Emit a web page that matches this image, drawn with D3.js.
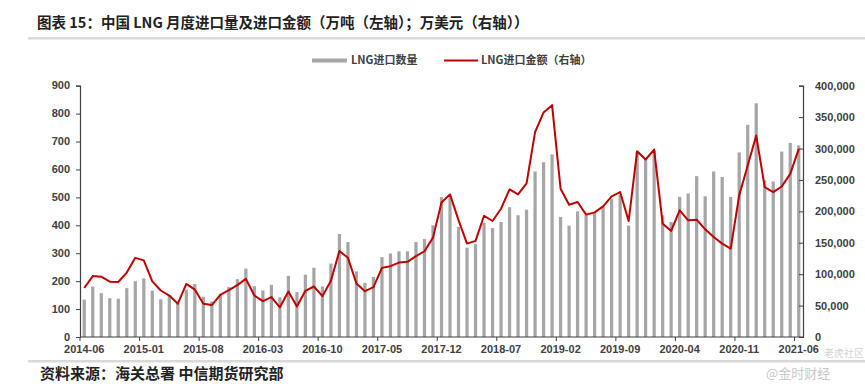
<!DOCTYPE html>
<html><head><meta charset="utf-8">
<script src="https://cdn.jsdelivr.net/npm/d3@7"></script>
<style>
body{margin:0;background:#fff;}
svg text{font-family:"Liberation Sans",Arial,"Noto Sans CJK SC",sans-serif;}
</style></head>
<body><svg id="c" width="865" height="389"></svg>
<script>
const months = [
"2014-06","2014-07","2014-08","2014-09","2014-10","2014-11","2014-12",
"2015-01","2015-02","2015-03","2015-04","2015-05","2015-06","2015-07","2015-08","2015-09","2015-10","2015-11","2015-12",
"2016-01","2016-02","2016-03","2016-04","2016-05","2016-06","2016-07","2016-08","2016-09","2016-10","2016-11","2016-12",
"2017-01","2017-02","2017-03","2017-04","2017-05","2017-06","2017-07","2017-08","2017-09","2017-10","2017-11","2017-12",
"2018-01","2018-02","2018-03","2018-04","2018-05","2018-06","2018-07","2018-08","2018-09","2018-10","2018-11","2018-12",
"2019-01","2019-02","2019-03","2019-04","2019-05","2019-06","2019-07","2019-08","2019-09","2019-10","2019-11","2019-12",
"2020-01","2020-02","2020-03","2020-04","2020-05","2020-06","2020-07","2020-08","2020-09","2020-10","2020-11","2020-12",
"2021-01","2021-02","2021-03","2021-04","2021-05","2021-06"];
// LNG import volume (万吨, left axis)
const volume = [
134,181,157,139,137,175,200,
210,166,135,150,120,170,190,144,127,155,179,207,
245,182,167,187,142,219,161,223,248,181,263,369,
340,235,194,215,286,299,307,307,340,351,400,501,
507,394,320,332,409,390,412,465,436,456,593,626,
654,430,399,450,436,444,468,495,510,399,663,635,
668,436,412,502,514,576,504,593,573,501,661,760,
837,561,557,664,695,686];
// LNG import value (万美元, right axis)
const value = [
78000,97000,96000,88000,87500,102500,126000,
122000,88500,74000,66000,53000,84500,75500,53000,50800,67200,74600,82500,
92500,66000,57000,63500,47300,72500,48500,73500,80400,65000,89400,137000,
126000,85200,73000,79400,110000,112700,118500,119600,128600,136500,158200,214000,
227000,186000,148700,153000,193000,184600,204200,235000,227000,244500,326000,357500,
369000,236000,210600,214800,194800,198400,208000,224000,230700,184600,295800,282500,
298400,180400,168800,201600,185700,186700,171400,159200,148600,140700,225400,273000,
320600,238600,230600,239600,259700,299400];
const xTickLabels = ["2014-06","2015-01","2015-08","2016-03","2016-10","2017-05","2017-12","2018-07","2019-02","2019-09","2020-04","2020-11","2021-06"];
const leftTicks = [0,100,200,300,400,500,600,700,800,900];
const rightTicks = [0,50000,100000,150000,200000,250000,300000,350000,400000];
const titleText = "图表 15：中国 LNG 月度进口量及进口金额（万吨（左轴）；万美元（右轴））";
const sourceText = "资料来源：海关总署  中信期货研究部";
const legendNames = ["LNG进口数量","LNG进口金额（右轴）"];

const svg = d3.select("#c");
const L = 80, R = 803, T = 85.7, B = 337;
const x = d3.scaleBand().domain(months).range([L, R]).padding(0);
const yL = d3.scaleLinear().domain([0, 900]).range([B, T]);
const yR = d3.scaleLinear().domain([0, 400000]).range([B, T]);
const bw = x.bandwidth() * 0.38;
const grey = "#a6a6a6", red = "#c00000", txt = "#404040";

// title
svg.append("text").attr("x", 37).attr("y", 28).attr("font-size", 14.5).attr("font-weight", 700)
  .attr("fill", "#222").style("font-family", '"Noto Sans CJK SC",sans-serif').text(titleText);
svg.append("rect").attr("x", 28).attr("y", 37).attr("width", 837).attr("height", 2.5).attr("fill", "#d9d9d9");
svg.append("rect").attr("x", 28).attr("y", 360).attr("width", 837).attr("height", 2.5).attr("fill", "#d9d9d9");
svg.append("text").attr("x", 40).attr("y", 379).attr("font-size", 15).attr("font-weight", 700)
  .attr("fill", "#222").style("font-family", '"Noto Sans CJK SC",sans-serif').text(sourceText);

// bars
svg.append("g").selectAll("rect").data(volume).join("rect")
  .attr("x", (d, i) => x(months[i]) + x.bandwidth() / 2 - bw / 2)
  .attr("y", d => yL(d)).attr("width", bw).attr("height", d => B - yL(d)).attr("fill", grey);

// line
const line = d3.line().x((d, i) => x(months[i]) + x.bandwidth() / 2).y(d => yR(d));
svg.append("path").datum(value).attr("d", line).attr("fill", "none").attr("stroke", red)
  .attr("stroke-width", 2).attr("stroke-linejoin", "round");

// left axis
const gl = svg.append("g").attr("transform", `translate(${L},0)`)
  .call(d3.axisLeft(yL).tickValues(leftTicks).tickSize(4).tickPadding(6).tickFormat(d3.format("d")));
// right axis
const gr = svg.append("g").attr("transform", `translate(${R},0)`)
  .call(d3.axisRight(yR).tickValues(rightTicks).tickSize(-4).tickPadding(12).tickFormat(d3.format(",")));
// x axis
const gx = svg.append("g").attr("transform", `translate(0,${B})`)
  .call(d3.axisBottom(x).tickValues(xTickLabels).tickSize(0).tickPadding(8));
gx.selectAll(".tick").append("line").attr("x1", -x.bandwidth() / 2).attr("x2", -x.bandwidth() / 2)
  .attr("y1", 0).attr("y2", 4).attr("stroke", "#404040");
[gl, gr, gx].forEach(g => {
  g.select(".domain").attr("stroke", "#404040").attr("stroke-width", 1.2);
  g.selectAll(".tick line").attr("stroke", "#404040");
  g.selectAll("text").attr("font-size", 11).attr("font-weight", 700).attr("fill", txt)
    .style("font-family", '"Liberation Sans",Arial,sans-serif');
});
gl.selectAll("text").attr("dy", "0.28em");
gx.select(".domain").attr("d", `M${L},0H${R}`);

// legend
const lg = svg.append("g");
lg.append("rect").attr("x", 312).attr("y", 58.5).attr("width", 35).attr("height", 4).attr("fill", grey);
lg.append("text").attr("x", 351).attr("y", 64).attr("font-size", 11).attr("font-weight", 700).attr("fill", txt)
  .style("font-family", '"Noto Sans CJK SC",sans-serif').text(legendNames[0]);
lg.append("line").attr("x1", 444).attr("x2", 478).attr("y1", 60.5).attr("y2", 60.5).attr("stroke", red).attr("stroke-width", 2);
lg.append("text").attr("x", 481).attr("y", 64).attr("font-size", 11).attr("font-weight", 700).attr("fill", txt)
  .style("font-family", '"Noto Sans CJK SC",sans-serif').text(legendNames[1]);

// watermarks
svg.append("text").attr("x", 824).attr("y", 357).attr("font-size", 10).attr("fill", "#c8c8c8").attr("opacity", 0.8)
  .style("font-family", '"Noto Sans CJK SC",sans-serif').text("老虎社区");
svg.append("text").attr("x", 766).attr("y", 378).attr("font-size", 13).attr("fill", "#bbbbbb").attr("opacity", 0.8)
  .style("font-family", '"Noto Sans CJK SC",sans-serif').text("@金时财经");
</script></body></html>
